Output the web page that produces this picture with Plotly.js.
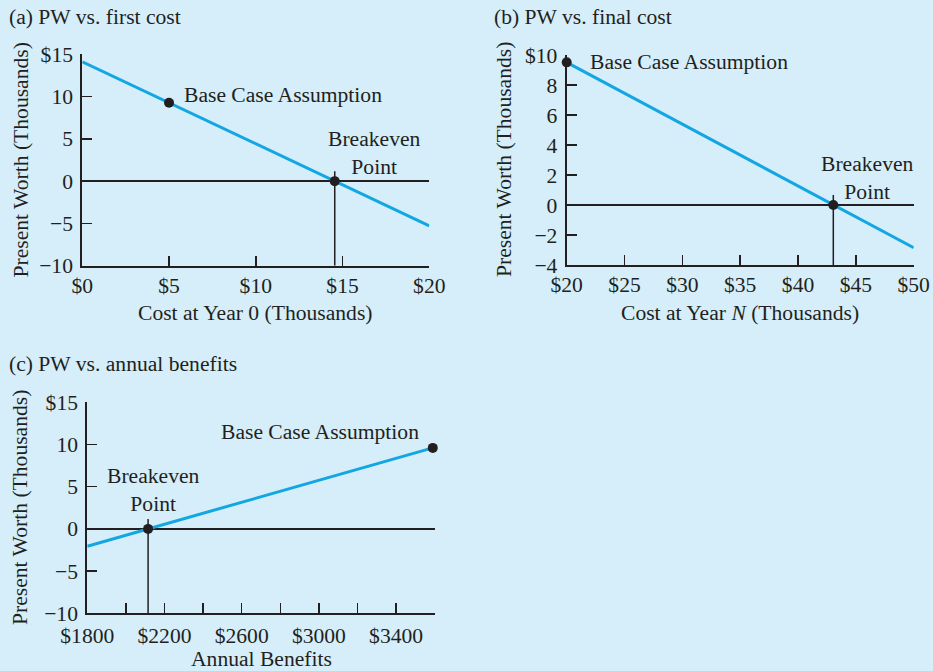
<!DOCTYPE html>
<html>
<head>
<meta charset="utf-8">
<script src="https://cdn.plot.ly/plotly-3.0.1.min.js"></script>
<style>html,body{margin:0;padding:0;background:#d5eefa;}#chart{width:933px;height:671px;}</style>
</head>
<body>
<div id="chart"></div>
<script>
// ---- Data ----
// (a) PW vs. first cost
const costA = [0, 20];
const pwA = [14.12, -5.29];
const baseA = [5, 9.27];
const breakA = [14.55, 0];
const aXTicks = [0, 5, 10, 15, 20];
const aXText = ['$0', '$5', '$10', '$15', '$20'];
const aYTicks = [-10, -5, 0, 5, 10, 15];
const aYText = ['\u221210', '\u22125', '0', '5', '10', '$15'];

// (b) PW vs. final cost
const costB = [20, 50];
const pwB = [9.51, -2.85];
const baseB = [20, 9.51];
const breakB = [43.05, 0];
const bXTicks = [20, 25, 30, 35, 40, 45, 50];
const bXText = ['$20', '$25', '$30', '$35', '$40', '$45', '$50'];
const bYTicks = [-4, -2, 0, 2, 4, 6, 8, 10];
const bYText = ['\u22124', '\u22122', '0', '2', '4', '6', '8', '$10'];

// (c) PW vs. annual benefits
const benefitC = [1800, 3590];
const pwC = [-2.05, 9.6];
const baseC = [3590, 9.6];
const breakC = [2115, 0];
const cXTicks = [1800, 2000, 2200, 2400, 2600, 2800, 3000, 3200, 3400, 3600];
const cXText = ['$1800', '', '$2200', '', '$2600', '', '$3000', '', '$3400', ''];
const cYTicks = [-10, -5, 0, 5, 10, 15];
const cYText = ['\u221210', '\u22125', '0', '5', '10', '$15'];

// ---- Style ----
const W = 933, H = 671;
const BG = '#d5eefa';
const INK = '#231f20';
const BLUE = '#12a6e2';
const FONT = 'Liberation Serif, Times New Roman, serif';
const FS = 21.6;

const xd = (a, b) => [a / W, b / W];
const yd = (top, bottom) => [1 - bottom / H, 1 - top / H];

function xAxis(domain, range, tv, tt, anchor, standoff) {
  return {
    domain: domain, range: range, anchor: anchor,
    tickmode: 'array', tickvals: tv, ticktext: tt,
    ticks: 'inside', ticklen: 10, tickwidth: 1.5, tickcolor: INK,
    showline: true, linecolor: INK, linewidth: 2,
    showgrid: false, zeroline: false, fixedrange: true,
    tickfont: {family: FONT, size: FS, color: INK},
    ticklabelstandoff: standoff
  };
}
function yAxis(domain, range, tv, tt, anchor) {
  return {
    domain: domain, range: range, anchor: anchor,
    tickmode: 'array', tickvals: tv, ticktext: tt,
    ticks: 'inside', ticklen: 10, tickwidth: 1.5, tickcolor: INK,
    showline: true, linecolor: INK, linewidth: 2,
    showgrid: false, zeroline: true, zerolinecolor: INK, zerolinewidth: 1.5,
    fixedrange: true,
    tickfont: {family: FONT, size: FS, color: INK},
    ticklabelstandoff: 3
  };
}

function lineTrace(x, y, xa, ya) {
  return {x: x, y: y, xaxis: xa, yaxis: ya, mode: 'lines', type: 'scatter',
    line: {color: BLUE, width: 3}, hoverinfo: 'skip', showlegend: false};
}
function ptTrace(pts, xa, ya) {
  return {x: pts.map(p => p[0]), y: pts.map(p => p[1]), xaxis: xa, yaxis: ya,
    mode: 'markers', type: 'scatter', cliponaxis: false,
    marker: {color: INK, size: 10}, hoverinfo: 'skip', showlegend: false};
}

const data = [
  lineTrace(costA, pwA, 'x', 'y'),
  ptTrace([baseA, breakA], 'x', 'y'),
  lineTrace(costB, pwB, 'x2', 'y2'),
  ptTrace([baseB, breakB], 'x2', 'y2'),
  lineTrace(benefitC, pwC, 'x3', 'y3'),
  ptTrace([baseC, breakC], 'x3', 'y3')
];

const rangeA = [aYTicks[0], aYTicks[aYTicks.length - 1]];
const rangeB = [bYTicks[0], bYTicks[bYTicks.length - 1]];
const rangeC = [cYTicks[0], cYTicks[cYTicks.length - 1]];

function dropLine(bx, ymin, xr, yr) {
  return [
    {type: 'line', xref: xr, yref: yr, x0: bx, x1: bx, y0: ymin, y1: 0,
     line: {color: INK, width: 1.5}},
    {type: 'line', xref: xr, yref: yr, x0: bx, x1: bx, ysizemode: 'pixel', yanchor: 0,
     y0: 0, y1: 10, line: {color: INK, width: 1.5}}
  ];
}

function txt(text, x, y, opts) {
  return Object.assign({text: text, xref: 'paper', yref: 'paper', x: x / W, y: 1 - y / H,
    showarrow: false, font: {family: FONT, size: FS, color: INK},
    xanchor: 'center', yanchor: 'middle'}, opts || {});
}
function ptLabel(text, pt, xr, yr, xs, ys, xanchor) {
  return {text: text, xref: xr, yref: yr, x: pt[0], y: pt[1], showarrow: false,
    xshift: xs, yshift: ys, xanchor: xanchor, yanchor: 'middle', align: 'center',
    font: {family: FONT, size: FS, color: INK}};
}

const layout = {
  width: W, height: H,
  margin: {l: 0, r: 0, t: 0, b: 0},
  paper_bgcolor: BG, plot_bgcolor: BG,
  showlegend: false,
  xaxis: xAxis(xd(82.3, 429.3), [costA[0], costA[1]], aXTicks, aXText, 'y', -1),
  yaxis: yAxis(yd(54.3, 265.7), rangeA, aYTicks, aYText, 'x'),
  xaxis2: xAxis(xd(566.7, 913.7), [costB[0], costB[1]], bXTicks, bXText, 'y2', -1),
  yaxis2: yAxis(yd(55, 265), rangeB, bYTicks, bYText, 'x2'),
  xaxis3: xAxis(xd(87.3, 434.7), [cXTicks[0], cXTicks[cXTicks.length - 1]], cXTicks, cXText, 'y3', 2),
  yaxis3: yAxis(yd(402.3, 613.3), rangeC, cYTicks, cYText, 'x3'),
  shapes: [].concat(
    dropLine(breakA[0], rangeA[0], 'x', 'y'),
    dropLine(breakB[0], rangeB[0], 'x2', 'y2'),
    dropLine(breakC[0], rangeC[0], 'x3', 'y3')
  ),
  annotations: [
    txt('(a) PW vs. first cost', 7, 17, {xanchor: 'left'}),
    txt('(b) PW vs. final cost', 491.7, 17, {xanchor: 'left'}),
    txt('(c) PW vs. annual benefits', 7, 364, {xanchor: 'left'}),
    txt('Present Worth (Thousands)', 20, 160.5, {textangle: -90}),
    txt('Present Worth (Thousands)', 504, 160, {textangle: -90}),
    txt('Present Worth (Thousands)', 19.5, 507.5, {textangle: -90}),
    txt('Cost at Year 0 (Thousands)', 255.8, 313.3),
    txt('Cost at Year <i>N</i> (Thousands)', 740, 313.3),
    txt('Annual Benefits', 261, 658.5),
    ptLabel('Base Case Assumption', baseA, 'x', 'y', 13, 8, 'left'),
    ptLabel('Breakeven<br>Point', breakA, 'x', 'y', 40, 28.5, 'center'),
    ptLabel('Base Case Assumption', baseB, 'x2', 'y2', 21.6, 0, 'left'),
    ptLabel('Breakeven<br>Point', breakB, 'x2', 'y2', 33.7, 27.5, 'center'),
    ptLabel('Base Case Assumption', baseC, 'x3', 'y3', -11.6, 15.6, 'right'),
    ptLabel('Breakeven<br>Point', breakC, 'x3', 'y3', 5, 39, 'center')
  ]
};

Plotly.newPlot('chart', data, layout, {staticPlot: true, displayModeBar: false});
</script>
</body>
</html>
